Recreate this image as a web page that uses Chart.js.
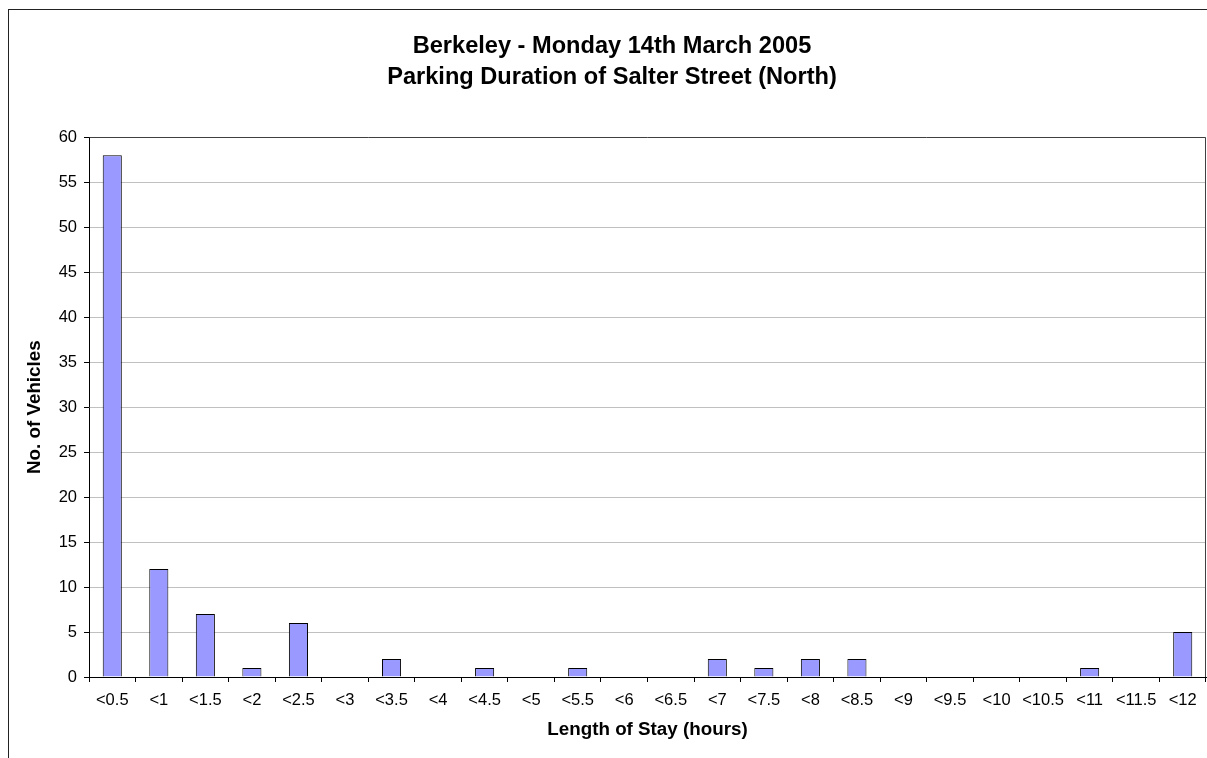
<!DOCTYPE html>
<html>
<head>
<meta charset="utf-8">
<title>Parking Duration of Salter Street (North)</title>
<script src="https://cdn.jsdelivr.net/npm/chart.js@4/dist/chart.umd.min.js"></script>
<style>
    html, body { margin: 0; padding: 0; background: #fff; overflow: hidden; }
    canvas { display: block; }
</style>
</head>
<body>
<!-- canvas is a little wider than the window: the original frame runs off the right edge -->
<canvas id="durationChart" width="1224" height="758"></canvas>
<script>
// Length of stay bands and vehicle counts
const stayBands = ["<0.5", "<1", "<1.5", "<2", "<2.5", "<3", "<3.5", "<4", "<4.5", "<5", "<5.5", "<6",
    "<6.5", "<7", "<7.5", "<8", "<8.5", "<9", "<9.5", "<10", "<10.5", "<11", "<11.5", "<12"];
const vehicleCounts = [58, 12, 7, 1, 6, 0, 2, 0, 1, 0, 1, 0, 0, 2, 1, 2, 2, 0, 0, 0, 0, 1, 0, 5];
const titleLines = ["Berkeley - Monday 14th March 2005", "Parking Duration of Salter Street (North)"];

const fontFamily = "'Liberation Sans', Arial, sans-serif";

// outer frame of the chart and border round the plot area
const frames = {
    id: "frames",
    beforeDraw(chart) {
        const ctx = chart.ctx;
        ctx.save();
        ctx.strokeStyle = "#222";
        ctx.lineWidth = 1;
        ctx.strokeRect(8.5, 9.5, 1300, 900);
        ctx.restore();
    },
    afterDraw(chart) {
        const { ctx, chartArea } = chart;
        ctx.save();
        ctx.strokeStyle = "#404040";
        ctx.lineWidth = 1;
        ctx.beginPath();
        ctx.moveTo(Math.round(chartArea.left) + 0.5, Math.round(chartArea.top) + 0.5);
        ctx.lineTo(Math.round(chartArea.right) - 0.5, Math.round(chartArea.top) + 0.5);
        ctx.lineTo(Math.round(chartArea.right) - 0.5, Math.round(chartArea.bottom));
        ctx.stroke();
        ctx.restore();
    }
};

new Chart(document.getElementById("durationChart"), {
    type: "bar",
    data: {
        labels: stayBands,
        datasets: [{
            label: "No. of Vehicles",
            data: vehicleCounts,
            backgroundColor: "#9999ff",
            borderColor: "#000",
            borderWidth: 1,
            categoryPercentage: 1,
            barPercentage: 0.41
        }]
    },
    options: {
        responsive: false,
        animation: false,
        layout: { padding: 0 },
        plugins: {
            legend: { display: false },
            tooltip: { enabled: false },
            title: {
                display: true,
                text: titleLines,
                color: "#000",
                font: { family: fontFamily, size: 23.6, weight: "bold", lineHeight: 1.32 },
                padding: { top: 31, bottom: 44 }
            }
        },
        scales: {
            x: {
                grid: {
                    display: true,
                    drawOnChartArea: false,
                    tickLength: 5,
                    tickColor: "#000"
                },
                border: { color: "#000" },
                ticks: {
                    color: "#000",
                    padding: 9,
                    maxRotation: 0,
                    autoSkip: false,
                    font: { family: fontFamily, size: 16.5 }
                },
                title: {
                    display: true,
                    text: "Length of Stay (hours)",
                    color: "#000",
                    font: { family: fontFamily, size: 18.8, weight: "bold" },
                    padding: { top: 0, bottom: 17 }
                },
                afterFit(scale) { scale.height = 81; }
            },
            y: {
                min: 0,
                max: 60,
                grid: {
                    color: "#c0c0c0",
                    tickLength: 5,
                    tickColor: "#000"
                },
                border: { color: "#000" },
                ticks: {
                    stepSize: 5,
                    color: "#000",
                    padding: 7,
                    font: { family: fontFamily, size: 16.5 }
                },
                title: {
                    display: true,
                    text: "No. of Vehicles",
                    color: "#000",
                    font: { family: fontFamily, size: 18.8, weight: "bold" },
                    padding: { top: 24, bottom: 0 }
                },
                afterFit(scale) { scale.width = 89; }
            },
            // empty right-hand spacer so the plot ends where the original does
            yRight: {
                position: "right",
                min: 0,
                max: 60,
                grid: { display: false },
                border: { display: false },
                ticks: { display: false },
                afterFit(scale) { scale.width = 18; }
            }
        }
    },
    plugins: [frames]
});
</script>
</body>
</html>
